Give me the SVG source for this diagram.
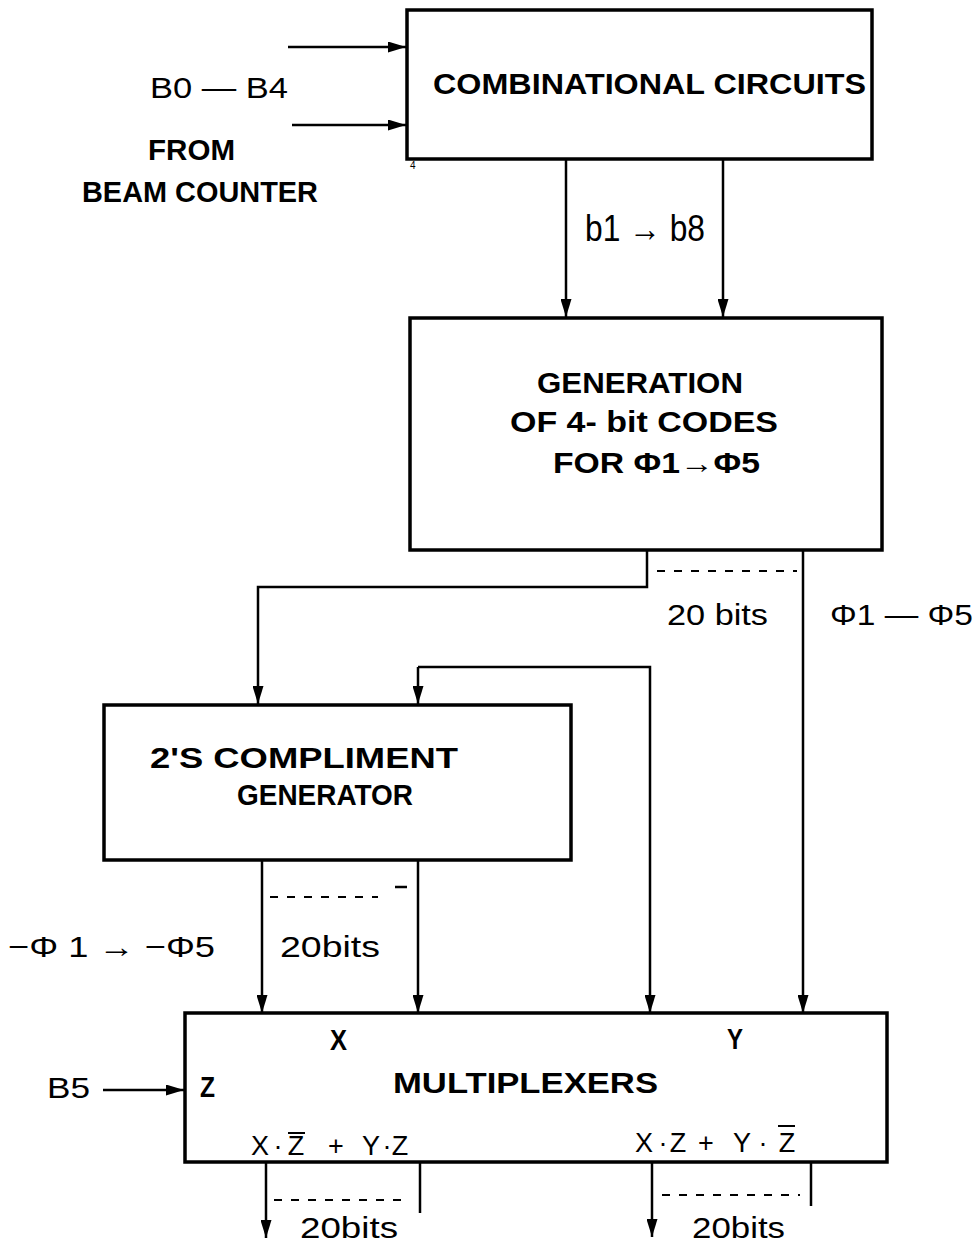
<svg xmlns="http://www.w3.org/2000/svg" width="980" height="1243" viewBox="0 0 980 1243">
<style>
.box{fill:#fff;stroke:#000;stroke-width:3.5}
.ln{fill:none;stroke:#000;stroke-width:2.5}
.dash{fill:none;stroke:#000;stroke-width:2;stroke-dasharray:8 9}
.b{font-family:"Liberation Sans",Arial,sans-serif;font-weight:bold;font-size:29px;fill:#000}
.r{font-family:"Liberation Sans",Arial,sans-serif;font-size:30px;fill:#000}
</style>
<defs>
<marker id="ah" viewBox="0 0 18 11" markerWidth="18" markerHeight="11" refX="18" refY="5.5" orient="auto" markerUnits="userSpaceOnUse">
<path d="M0,0 L18,5.5 L0,11 z" fill="#000"/>
</marker>
</defs>
<rect width="980" height="1243" fill="#fff"/>

<g id="connectors">
<path class="ln" d="M288,47 H406" marker-end="url(#ah)"/>
<path class="ln" d="M292,125 H406" marker-end="url(#ah)"/>
<path class="ln" d="M566,159 V317" marker-end="url(#ah)"/>
<path class="ln" d="M723,159 V317" marker-end="url(#ah)"/>
<path class="ln" d="M647,550 V587 H258 V704" marker-end="url(#ah)"/>
<path class="dash" d="M657,571 H797"/>
<path class="ln" d="M803,550 V1013" marker-end="url(#ah)"/>
<path class="ln" d="M418,667 H650 V1013" marker-end="url(#ah)"/>
<path class="ln" d="M418,667 V704" marker-end="url(#ah)"/>
<path class="ln" d="M262,860 V1013" marker-end="url(#ah)"/>
<path class="ln" d="M418,860 V1013" marker-end="url(#ah)"/>
<path class="dash" d="M270,897 H378"/>
<path class="ln" d="M395,887 H407"/>
<path class="ln" d="M103,1090 H184" marker-end="url(#ah)"/>
<path class="ln" d="M266,1162 V1238" marker-end="url(#ah)"/>
<path class="ln" d="M420,1162 V1213"/>
<path class="dash" d="M274,1200 H408"/>
<path class="ln" d="M652,1160 V1237" marker-end="url(#ah)"/>
<path class="ln" d="M811,1160 V1206"/>
<path class="dash" d="M662,1195 H800"/>
</g>

<g id="input-label">
<text class="r" x="150" y="98" textLength="138" lengthAdjust="spacingAndGlyphs">B0 — B4</text>
<text class="b" x="148" y="160" textLength="87" lengthAdjust="spacingAndGlyphs">FROM</text>
<text class="b" x="82" y="202" textLength="236" lengthAdjust="spacingAndGlyphs">BEAM COUNTER</text>
</g>

<g id="combinational">
<rect class="box" x="407" y="10" width="465" height="149"/>
<text class="b" x="433" y="94" textLength="433" lengthAdjust="spacingAndGlyphs">COMBINATIONAL  CIRCUITS</text>
<text class="r" x="410" y="169" style="font-size:10px">4</text>
</g>

<g id="b-label">
<text class="r" x="585" y="241" style="font-size:36px" textLength="120" lengthAdjust="spacingAndGlyphs">b1 → b8</text>
</g>

<g id="generation">
<rect class="box" x="410" y="318" width="472" height="232"/>
<text class="b" x="537" y="393" textLength="206" lengthAdjust="spacingAndGlyphs">GENERATION</text>
<text class="b" x="510" y="432" textLength="268" lengthAdjust="spacingAndGlyphs">OF  4- bit  CODES</text>
<text class="b" x="553" y="473" textLength="207" lengthAdjust="spacingAndGlyphs">FOR  Φ1→Φ5</text>
</g>

<g id="phi-labels">
<text class="r" x="667" y="625" textLength="101" lengthAdjust="spacingAndGlyphs">20 bits</text>
<text class="r" x="830" y="625" textLength="143" lengthAdjust="spacingAndGlyphs">Φ1 — Φ5</text>
</g>

<g id="twos-complement">
<rect class="box" x="104" y="705" width="467" height="155"/>
<text class="b" x="150" y="768" textLength="308" lengthAdjust="spacingAndGlyphs">2'S  COMPLIMENT</text>
<text class="b" x="237" y="805" textLength="176" lengthAdjust="spacingAndGlyphs">GENERATOR</text>
</g>

<g id="neg-labels">
<text class="r" x="280" y="957" textLength="100" lengthAdjust="spacingAndGlyphs">20bits</text>
<text class="r" x="8" y="957" textLength="207" lengthAdjust="spacingAndGlyphs">−Φ 1 → −Φ5</text>
</g>

<g id="multiplexers">
<rect class="box" x="185" y="1013" width="702" height="149"/>
<text class="b" x="330" y="1050" textLength="17" lengthAdjust="spacingAndGlyphs">X</text>
<text class="b" x="727" y="1049" textLength="16" lengthAdjust="spacingAndGlyphs">Y</text>
<text class="b" x="393" y="1093" textLength="265" lengthAdjust="spacingAndGlyphs">MULTIPLEXERS</text>
<text class="b" x="200" y="1097" textLength="15" lengthAdjust="spacingAndGlyphs">Z</text>
<g class="r" style="font-size:27px" text-anchor="middle">
<text x="260" y="1155">X</text>
<text x="278" y="1155">·</text>
<text x="296" y="1155">Z</text>
<text x="336" y="1155">+</text>
<text x="371" y="1155">Y</text>
<text x="387" y="1155">·</text>
<text x="400" y="1155">Z</text>
<text x="644" y="1152">X</text>
<text x="663" y="1152">·</text>
<text x="678" y="1152">Z</text>
<text x="706" y="1152">+</text>
<text x="742" y="1152">Y</text>
<text x="763" y="1152">·</text>
<text x="787" y="1152">Z</text>
</g>
<path class="ln" d="M288,1133 H305 M778,1126 H795" style="stroke-width:2"/>
</g>

<g id="b5-label">
<text class="r" x="47" y="1098" textLength="43" lengthAdjust="spacingAndGlyphs">B5</text>
</g>

<g id="out-labels">
<text class="r" x="300" y="1238" textLength="98" lengthAdjust="spacingAndGlyphs">20bits</text>
<text class="r" x="692" y="1238" textLength="93" lengthAdjust="spacingAndGlyphs">20bits</text>
</g>
</svg>
